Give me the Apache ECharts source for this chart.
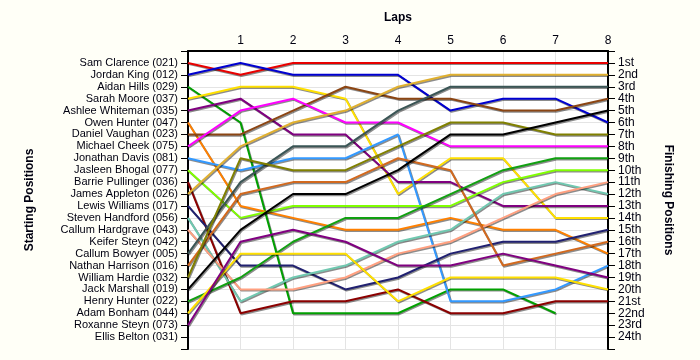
<!DOCTYPE html>
<html><head><meta charset="utf-8">
<script src="https://cdn.jsdelivr.net/npm/echarts@6/dist/echarts.min.js"></script>
<style>html,body{margin:0;padding:0;background:#FFFFF7;}#c{width:700px;height:360px;}</style>
</head><body><div id="c"></div><script>
// Lap numbers (x) and tick labels
var laps = [0, 1, 2, 3, 4, 5, 6, 7, 8];
var lapLabels = ['1', '2', '3', '4', '5', '6', '7', '8'];

// Starting grid (left axis labels)
var drivers = [
  'Sam Clarence (021)', 'Jordan King (012)', 'Aidan Hills (029)', 'Sarah Moore (037)',
  'Ashlee Whiteman (035)', 'Owen Hunter (047)', 'Daniel Vaughan (023)', 'Michael Cheek (075)',
  'Jonathan Davis (081)', 'Jasleen Bhogal (077)', 'Barrie Pullinger (036)', 'James Appleton (026)',
  'Lewis Williams (017)', 'Steven Handford (056)', 'Callum Hardgrave (043)', 'Keifer Steyn (042)',
  'Callum Bowyer (005)', 'Nathan Harrison (016)', 'William Hardie (032)', 'Jack Marshall (019)',
  'Henry Hunter (022)', 'Adam Bonham (044)', 'Roxanne Steyn (073)', 'Ellis Belton (031)'
];

// Finishing positions (right axis labels)
var finishLabels = ['1st', '2nd', '3rd', '4th', '5th', '6th', '7th', '8th', '9th', '10th', '11th', '12th',
  '13th', '14th', '15th', '16th', '17th', '18th', '19th', '20th', '21st', '22nd', '23rd', '24th'];

// Position of each driver at laps 0..8
var samClarence     = [1, 2, 1, 1, 1, 1, 1, 1, 1];
var jordanKing      = [2, 1, 2, 2, 2, 5, 4, 4, 6];
var aidanHills      = [3, 6, 22, 22, 22, 20, 20, 22, null];
var sarahMoore      = [4, 3, 3, 4, 12, 9, 9, 14, 14];
var ashleeWhiteman  = [5, 4, 7, 7, 11, 11, 13, 13, 13];
var owenHunter      = [6, 13, 14, 15, 15, 14, 15, 15, 17];
var danielVaughan   = [7, 7, 5, 3, 4, 4, 5, 5, 4];
var michaelCheek    = [8, 5, 4, 6, 6, 8, 8, 8, 8];
var jonathanDavis   = [9, 10, 9, 9, 7, 21, 21, 20, 18];
var jasleenBhogal   = [10, 14, 13, 13, 13, 13, 11, 10, 10];
var barriePullinger = [11, 22, 21, 21, 20, 22, 22, 21, 21];
var jamesAppleton   = [12, 8, 6, 5, 3, 2, 2, 2, 2];
var lewisWilliams   = [13, 18, 18, 20, 19, 17, 16, 16, 15];
var stevenHandford  = [14, 21, 19, 18, 16, 15, 12, 11, 12];
var callumHardgrave = [15, 20, 20, 19, 17, 16, 14, 12, 11];
var keiferSteyn     = [];
var callumBowyer    = [17, 11, 8, 8, 5, 3, 3, 3, 3];
var nathanHarrison  = [18, 12, 11, 11, 9, 10, 18, 17, 16];
var williamHardie   = [19, 9, 10, 10, 8, 6, 6, 7, 7];
var jackMarshall    = [20, 15, 12, 12, 10, 7, 7, 6, 5];
var henryHunter     = [21, 19, 16, 14, 14, 12, 10, 9, 9];
var adamBonham      = [22, 17, 17, 17, 21, 19, 19, 19, 20];
var roxanneSteyn    = [23, 16, 15, 16, 18, 18, 17, 18, 19];
var ellisBelton     = [];

var positions = [samClarence, jordanKing, aidanHills, sarahMoore, ashleeWhiteman, owenHunter,
  danielVaughan, michaelCheek, jonathanDavis, jasleenBhogal, barriePullinger, jamesAppleton,
  lewisWilliams, stevenHandford, callumHardgrave, keiferSteyn, callumBowyer, nathanHarrison,
  williamHardie, jackMarshall, henryHunter, adamBonham, roxanneSteyn, ellisBelton];

var colors = ['#E80000', '#0000D0', '#00A000', '#FFE000', '#800080', '#FF8000', '#8B4513', '#FF00FF',
  '#3399FF', '#80FF00', '#8B0000', '#E0B030', '#202070', '#70C8B0', '#FFA080', '#888888',
  '#3A5555', '#D2691E', '#808000', '#000000', '#11A011', '#FFE000', '#800080', '#888888'];

var series = [];
positions.forEach(function (arr, i) {
  var d = [];
  arr.forEach(function (p, k) { if (p !== null && p !== undefined) d.push([laps[k], p]); });
  if (!d.length) return;
  series.push({
    name: drivers[i], type: 'line', data: d, symbol: 'none', showSymbol: false,
    animation: false, silent: true,
    lineStyle: { width: 2, color: colors[i], shadowColor: 'rgba(0,0,0,0.45)', shadowOffsetX: 1, shadowOffsetY: 1.2, shadowBlur: 0 },
    itemStyle: { color: colors[i] }
  });
});

var font = 'Liberation Sans, Arial, sans-serif';
var txt = '#000010';
var chart = echarts.init(document.getElementById('c'), null, { renderer: 'canvas' });
chart.setOption({
  backgroundColor: '#FFFFF7',
  animation: false,
  textStyle: { fontFamily: font },
  grid: { left: 188, right: 92, top: 51, bottom: 11, show: true, backgroundColor: '#FFFFFF', borderWidth: 0 },
  xAxis: {
    type: 'value', min: 0, max: 8, interval: 1, position: 'top',
    name: 'Laps', nameLocation: 'middle', nameGap: 27,
    nameTextStyle: { fontWeight: 'bold', fontSize: 12, color: txt, fontFamily: font },
    axisLine: { show: true, lineStyle: { color: '#000', width: 2 } },
    axisTick: { show: false },
    axisLabel: { margin: 4, fontSize: 12, color: txt, fontFamily: font,
      formatter: function (v) { return v >= 1 && v <= 8 ? lapLabels[v - 1] : ''; } },
    splitLine: { show: true, lineStyle: { color: '#E4E4E4', width: 1 } }
  },
  yAxis: [{
    type: 'value', min: 0, max: 25, interval: 1, inverse: true, position: 'left',
    name: 'Starting Positions', nameLocation: 'middle', nameGap: 152,
    nameTextStyle: { fontWeight: 'bold', fontSize: 12, color: txt, fontFamily: font },
    axisLine: { show: true, lineStyle: { color: '#000', width: 2 } },
    axisTick: { show: true, length: 7, lineStyle: { color: '#000', width: 1 } },
    axisLabel: { margin: 10, fontSize: 11, color: txt, fontFamily: font,
      formatter: function (v) { return v >= 1 && v <= 24 ? drivers[v - 1] : ''; } },
    splitLine: { show: true, lineStyle: { color: '#E4E4E4', width: 1 } }
  }, {
    type: 'value', min: 0, max: 25, interval: 1, inverse: true, position: 'right',
    name: 'Finishing Positions', nameLocation: 'middle', nameGap: 54, nameRotate: -90,
    nameTextStyle: { fontWeight: 'bold', fontSize: 12, color: txt, fontFamily: font },
    axisLine: { show: true, lineStyle: { color: '#000', width: 2 } },
    axisTick: { show: true, length: 7, lineStyle: { color: '#000', width: 1 } },
    axisLabel: { margin: 10, fontSize: 12, color: txt, fontFamily: font,
      formatter: function (v) { return v >= 1 && v <= 24 ? finishLabels[v - 1] : ''; } },
    splitLine: { show: false }
  }],
  series: series
});
</script></body></html>
